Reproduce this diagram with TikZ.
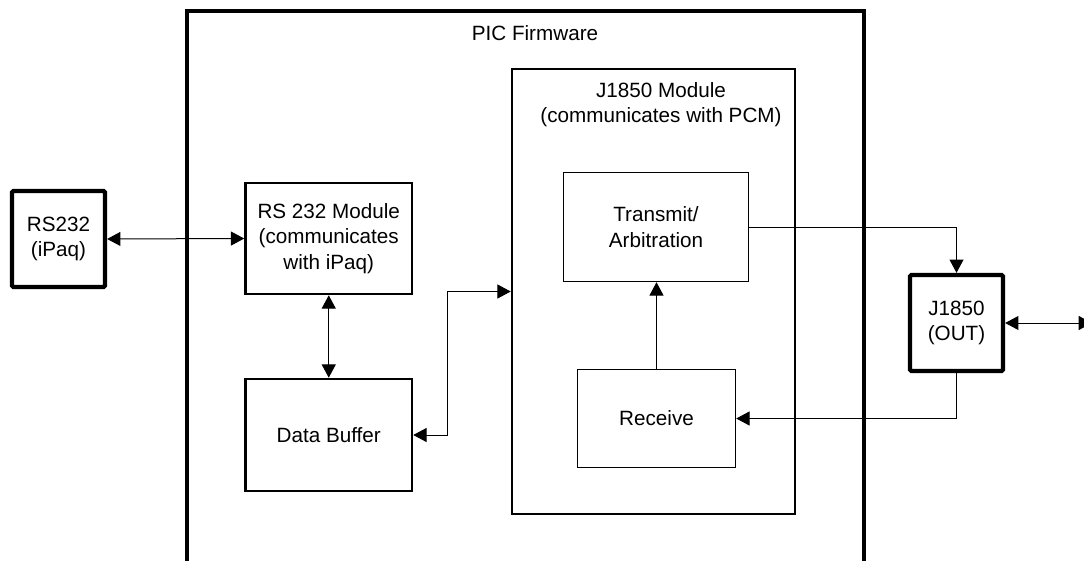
\documentclass[tikz,border=0pt]{standalone}
\usepackage{fontspec}
\setmainfont{Liberation Sans}
\usetikzlibrary{arrows.meta}
\begin{document}
\begin{tikzpicture}[x=0.75pt,y=-0.75pt,
  font=\fontsize{15.5}{19}\selectfont,
  % box sizes are given in drawing units (1 unit = 0.75pt)
  size/.style 2 args={minimum width={#1*0.75pt},minimum height={#2*0.75pt}},
  heavybox/.style={draw,line width=3.2pt,rounded corners=1pt,align=center,inner sep=0pt},
  modbox/.style={draw,line width=1.9pt,align=center,inner sep=0pt},
  subbox/.style={draw,line width=1.1pt,align=center,inner sep=0pt},
  link/.style={line width=0.75pt},
  tip/.style={-{Triangle[length=10pt,width=10.5pt]}},
  twotip/.style={{Triangle[length=10pt,width=10.5pt]}-{Triangle[length=10pt,width=10.5pt]}}]
\useasboundingbox (0,0) rectangle (1084,560);

% firmware enclosure (continues past the lower edge)
\draw[line width=3.5pt] (187,600) -- (187,11) -- (864,11) -- (864,600);
\node (fwlabel) at (535,33) {PIC Firmware};

% external interfaces
\node[heavybox,size={93}{96}] (rs232) at (58.5,239) {RS232\\(iPaq)};
\node[heavybox,size={93}{96}] (out) at (956.5,323) {J1850\\(OUT)};

% firmware modules
\node[modbox,size={166.5}{111}] (rsmod) at (328.75,238.5)
  {RS 232 Module\\(communicates\\with iPaq)};
\node[modbox,size={166.5}{112}] (dbuf) at (328.75,435) {Data Buffer};
\node[modbox,size={283}{445}] (jmod) at (653.5,291.5) {};
\node[align=center] (jlabel) at (661,104.5) {J1850 Module\\(communicates with PCM)};
\node[subbox,size={185}{109}] (tx) at (656,227) {Transmit/\\Arbitration};
\node[subbox,size={158}{98}] (rx) at (656.5,418.5) {Receive};

\coordinate (bus) at (1092,323);

% connections
\draw[link,twotip] (rs232.east) -- (rsmod.west);
\draw[link,twotip] (rsmod.south) -- (dbuf.north);
\draw[link,twotip] (dbuf.east) -- ++(34,0) |- (jmod.west);
\draw[link,tip] (rx.north) -- (rx.north |- tx.south);
\draw[link,tip] (tx.east) -| (out.north);
\draw[link,tip] (out.south) |- (rx.east);
\draw[link,twotip] (out.east) -- (bus);
\end{tikzpicture}
\end{document}
